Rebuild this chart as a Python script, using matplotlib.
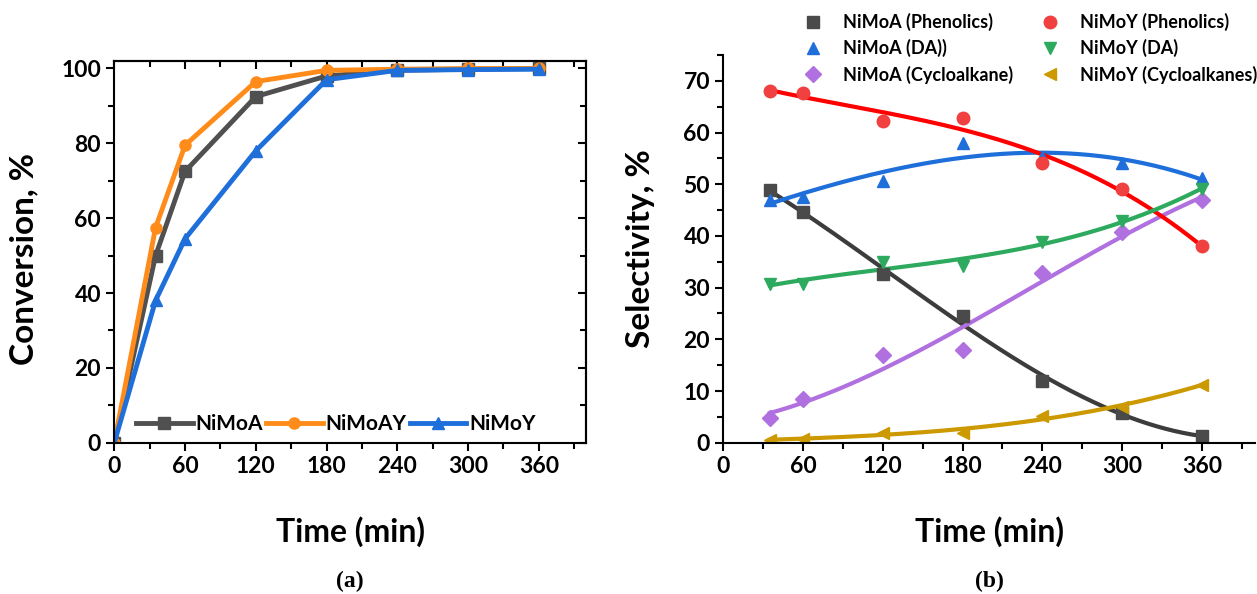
import matplotlib
matplotlib.use("Agg")
import matplotlib.pyplot as plt
import numpy as np
from matplotlib.ticker import MultipleLocator

plt.rcParams['font.family'] = ['Lato', 'DejaVu Sans']
plt.rcParams['font.weight'] = 'bold'

# (a) conversion
t_conv = [0, 35, 60, 120, 180, 240, 300, 360]
conv_nimoa = [0, 50.0, 72.5, 92.5, 98.0, 99.5, 99.8, 100.0]
conv_nimoay = [0, 57.5, 79.5, 96.5, 99.5, 99.8, 100.0, 100.0]
conv_nimoy = [0, 38.0, 54.5, 78.0, 97.0, 99.5, 99.7, 99.8]

# (b) selectivity
t_sel = [35, 60, 120, 180, 240, 300, 360]
a_phen = [48.8, 44.7, 32.7, 24.5, 12.0, 5.7, 1.3]
y_phen = [68.0, 67.6, 62.2, 62.9, 54.2, 49.0, 38.0]
a_da = [47.0, 47.6, 50.6, 58.0, 55.2, 54.1, 51.3]
y_da = [30.7, 30.7, 34.9, 34.2, 38.9, 42.8, 49.1]
a_cyc = [4.7, 8.5, 17.0, 17.9, 32.9, 40.7, 47.0]
y_cyc = [0.5, 0.8, 1.9, 1.9, 5.2, 7.0, 11.2]

W, H = 1257, 594
fig = plt.figure(figsize=(W / 100, H / 100), dpi=100)
ax1 = fig.add_axes([114.3 / W, 1 - 442.7 / H, 471.7 / W, 381.7 / H])
ax2 = fig.add_axes([723.3 / W, 1 - 442.7 / H, 531.7 / W, 387.7 / H])


def ticks_style(ax):
    ax.tick_params(which='both', width=1.5, labelsize=16.5)
    ax.tick_params(which='major', length=6)
    ax.tick_params(which='minor', length=4)


# --- panel a ---
ax1.plot(t_conv, conv_nimoa, '-s', color='#505050', lw=3.5, ms=8, label='NiMoA')
ax1.plot(t_conv, conv_nimoay, '-o', color='#ff8c1a', lw=3.5, ms=8, label='NiMoAY')
ax1.plot(t_conv, conv_nimoy, '-^', color='#1f6fdb', lw=3.5, ms=8.5, label='NiMoY')
ax1.set_xlim(0, 400)
ax1.set_ylim(0, 102)
ax1.set_xticks(range(0, 361, 60))
ax1.xaxis.set_minor_locator(MultipleLocator(30))
ax1.yaxis.set_major_locator(MultipleLocator(20))
ax1.yaxis.set_minor_locator(MultipleLocator(10))
ax1.tick_params(which='both', direction='out', top=False, right=False)
ticks_style(ax1)
axt = ax1.secondary_xaxis('top')
axt.xaxis.set_major_locator(MultipleLocator(60))
axt.xaxis.set_minor_locator(MultipleLocator(30))
axt.tick_params(which='both', direction='in', labeltop=False)
ticks_style(axt)
axr = ax1.secondary_yaxis('right')
axr.yaxis.set_major_locator(MultipleLocator(20))
axr.yaxis.set_minor_locator(MultipleLocator(10))
axr.tick_params(which='both', direction='in', labelright=False)
ticks_style(axr)
for s in list(ax1.spines.values()) + list(axt.spines.values()) + list(axr.spines.values()):
    s.set_linewidth(1.5)
ax1.set_ylabel('Conversion, %', fontsize=24, fontweight='bold')
ax1.yaxis.set_label_coords(-0.162, 0.48)
ax1.set_xlabel('Time (min)', fontsize=23, fontweight='bold')
ax1.xaxis.set_label_coords(0.5, -0.234)
ax1.xaxis.label.set_va('center')
ax1.legend(loc='center', ncol=3, frameon=False, fontsize=15,
           handlelength=2.7, handletextpad=0.15, columnspacing=0.15,
           bbox_to_anchor=(0.47, 0.049), borderaxespad=0, borderpad=0)

# --- panel b ---
series = [
    (a_phen, 's', '#4a4a4a', '#3c3c3c', 'NiMoA (Phenolics)'),
    (a_da, '^', '#1f6fdb', '#1f6fdb', 'NiMoA (DA))'),
    (a_cyc, 'D', '#b070e0', '#b070e0', 'NiMoA (Cycloalkane)'),
    (y_phen, 'o', '#f04040', '#ff0000', 'NiMoY (Phenolics)'),
    (y_da, 'v', '#2eaa5e', '#2eaa5e', 'NiMoY (DA)'),
    (y_cyc, '<', '#cc9900', '#cc9900', 'NiMoY (Cycloalkanes)'),
]
tt = np.linspace(35, 360, 200)
handles = []
for vals, mk, mc, lc, lab in series:
    ms = 8 if mk == 'D' else 9
    h, = ax2.plot(t_sel, vals, mk, color=mc, ms=ms, ls='none', label=lab)
    handles.append(h)
    coef = np.polyfit(t_sel, vals, 3)
    ax2.plot(tt, np.polyval(coef, tt), color=lc, lw=3, zorder=1)
ax2.set_xlim(0, 400)
ax2.set_ylim(0, 75)
ax2.set_xticks(range(0, 361, 60))
ax2.xaxis.set_minor_locator(MultipleLocator(30))
ax2.set_yticks(range(0, 71, 10))
ax2.yaxis.set_minor_locator(MultipleLocator(5))
ax2.spines['top'].set_visible(False)
ax2.spines['right'].set_visible(False)
for s in ax2.spines.values():
    s.set_linewidth(1.5)
ax2.tick_params(which='both', direction='out')
ticks_style(ax2)
ax2.set_ylabel('Selectivity, %', fontsize=24, fontweight='bold')
ax2.yaxis.set_label_coords(-0.128, 0.5)
ax2.set_xlabel('Time (min)', fontsize=23, fontweight='bold')
ax2.xaxis.set_label_coords(0.5, -0.230)
ax2.xaxis.label.set_va('center')

leg_kw = dict(loc='upper left', frameon=False, fontsize=13, handlelength=1.6,
              handletextpad=0.85, labelspacing=0.45, borderpad=0, borderaxespad=0)
fig.legend(handles=handles[:3], bbox_to_anchor=(798.6 / W, 1 - 13 / H), **leg_kw)
fig.legend(handles=handles[3:], bbox_to_anchor=(1035.6 / W, 1 - 13 / H), **leg_kw)

fig.text(350 / W, 1 - 581 / H, '(a)', fontsize=17, fontweight='bold',
         family='Liberation Serif', ha='center', va='center')
fig.text(989 / W, 1 - 581 / H, '(b)', fontsize=17, fontweight='bold',
         family='Liberation Serif', ha='center', va='center')

fig.savefig('out.png', dpi=100)
